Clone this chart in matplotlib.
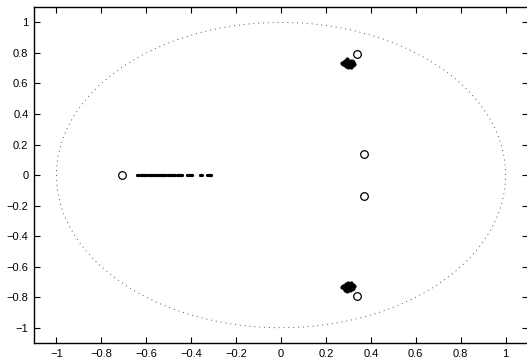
import numpy as np
import matplotlib
matplotlib.use("Agg")
import matplotlib.pyplot as plt

# zeros (open circles)
zero_re = [-0.71, 0.34, 0.37, 0.37, 0.34]
zero_im = [0.0, 0.79, 0.14, -0.14, -0.79]

# poles near upper cluster
pole_up_re = [0.27, 0.28, 0.285, 0.29, 0.295, 0.30, 0.305, 0.31, 0.315, 0.32, 0.325,
              0.28, 0.29, 0.30, 0.31, 0.32, 0.275, 0.285, 0.295, 0.305, 0.315, 0.30, 0.31, 0.29]
pole_up_im = [0.735, 0.74, 0.725, 0.745, 0.73, 0.72, 0.75, 0.735, 0.725, 0.74, 0.73,
              0.725, 0.715, 0.735, 0.715, 0.72, 0.73, 0.75, 0.76, 0.74, 0.745, 0.71, 0.705, 0.725]
pole_dn_re = pole_up_re
pole_dn_im = [-v for v in pole_up_im]

# poles on real axis
pole_ax_re = [-0.64, -0.635, -0.63, -0.625, -0.62, -0.615, -0.61, -0.605, -0.60, -0.595,
              -0.59, -0.585, -0.58, -0.575, -0.57, -0.565, -0.56, -0.555, -0.55, -0.545,
              -0.54, -0.535, -0.53, -0.525, -0.52, -0.515, -0.51, -0.505, -0.50, -0.495,
              -0.49, -0.485, -0.48, -0.475, -0.47, -0.465, -0.46, -0.455, -0.45, -0.445,
              -0.44, -0.42, -0.415, -0.41, -0.405, -0.40, -0.395, -0.36, -0.355, -0.35,
              -0.33, -0.325, -0.32, -0.315, -0.31]
pole_ax_im = [0.0] * len(pole_ax_re)

ticks = [-1, -0.8, -0.6, -0.4, -0.2, 0, 0.2, 0.4, 0.6, 0.8, 1]
tick_labels = ["\u22121", "\u22120.8", "\u22120.6", "\u22120.4", "\u22120.2", "0",
               "0.2", "0.4", "0.6", "0.8", "1"]

plt.rcParams['font.family'] = ['Liberation Sans', 'DejaVu Sans']
fig = plt.figure(figsize=(5.27, 3.58), dpi=100)
ax = fig.add_axes([0.0645, 0.042, 0.9375, 0.938])

t = np.linspace(0, 2 * np.pi, 400)
ax.plot(np.cos(t), np.sin(t), linestyle=(0, (1, 4)), color='#555555', linewidth=0.7)

ax.plot(pole_up_re, pole_up_im, '.', color='black', markersize=4)
ax.plot(pole_dn_re, pole_dn_im, '.', color='black', markersize=4)
ax.plot(pole_ax_re, pole_ax_im, '.', color='black', markersize=2.6)
ax.plot(zero_re, zero_im, 'o', markerfacecolor='none', markeredgecolor='black',
        markersize=5.5, markeredgewidth=0.9)

ax.set_xlim(-1.1, 1.1)
ax.set_ylim(-1.1, 1.1)
ax.set_xticks(ticks)
ax.set_xticklabels(tick_labels)
ax.set_yticks(ticks)
ax.set_yticklabels(tick_labels)
ax.tick_params(direction='in', length=4, width=0.8, top=True, right=True,
               labelsize=8, pad=4)
for s in ax.spines.values():
    s.set_linewidth(1.0)

fig.savefig("out.png", dpi=100)
